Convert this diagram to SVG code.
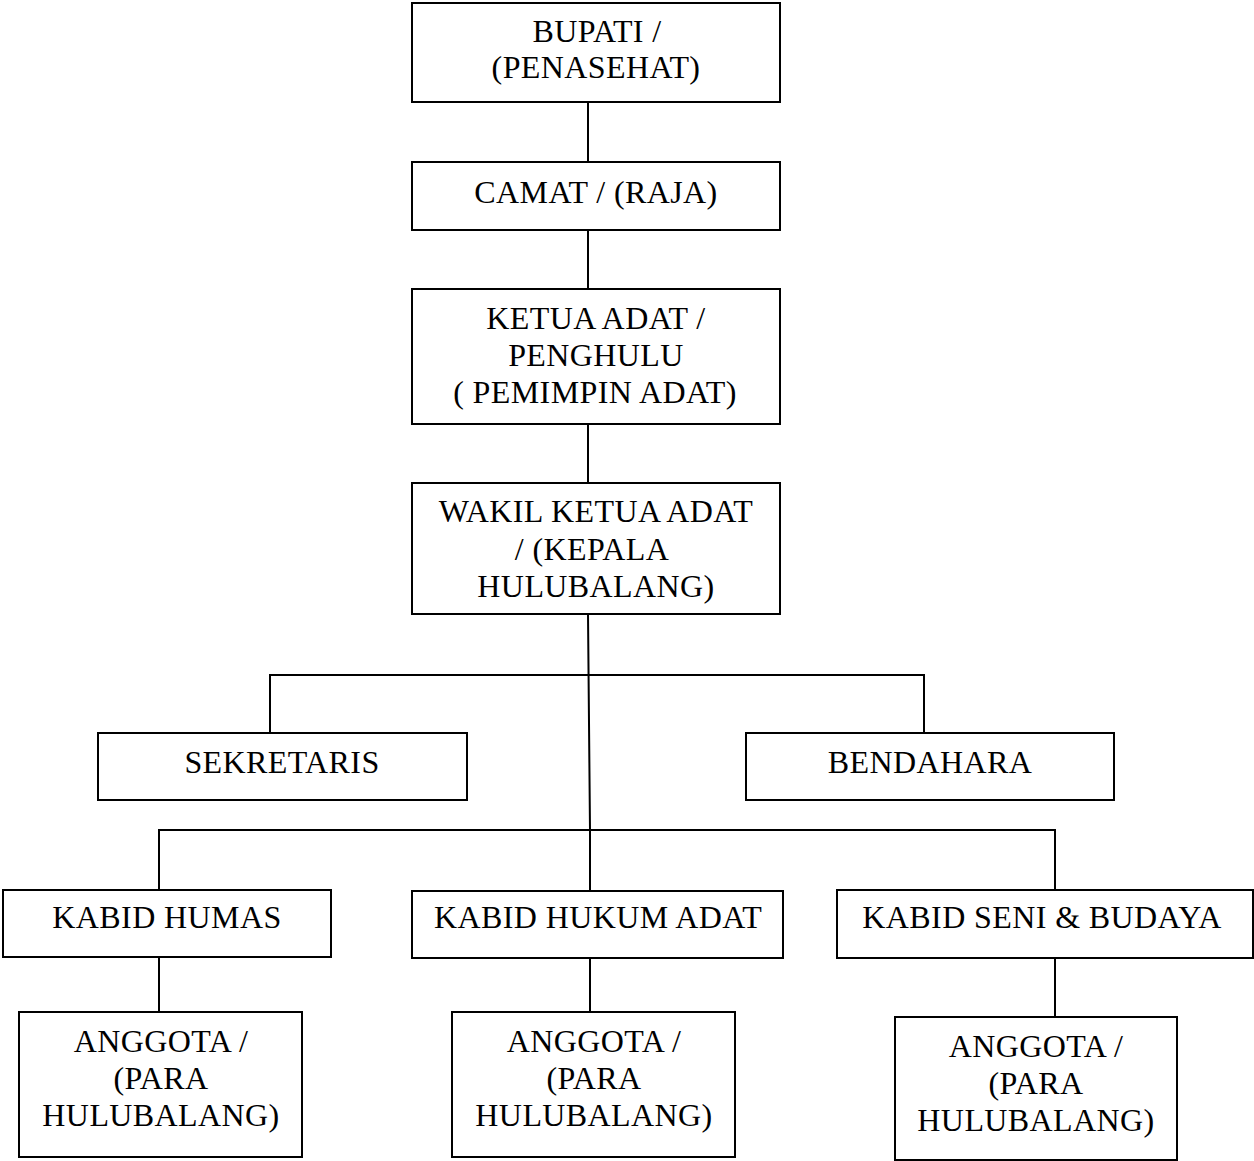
<svg xmlns="http://www.w3.org/2000/svg" width="1254" height="1161" viewBox="0 0 1254 1161">
<style>
.box{fill:#fff;stroke:#000;stroke-width:2}
.lbl{font-family:"Liberation Serif","Times New Roman",serif;font-size:32px;letter-spacing:0.4px;fill:#000;text-anchor:middle}
.con{fill:none;stroke:#000;stroke-width:2}
</style>
<rect width="1254" height="1161" fill="#fff"/>
<g id="connectors">
<line class="con" x1="588" y1="102" x2="588" y2="162"/>
<line class="con" x1="588" y1="230" x2="588" y2="289"/>
<line class="con" x1="588" y1="424" x2="588" y2="483"/>
<polyline class="con" points="588,614 590,830 590,891"/>
<polyline class="con" points="270,733 270,675 924,675 924,733"/>
<polyline class="con" points="159,890 159,830 1055,830 1055,890"/>
<line class="con" x1="159" y1="957" x2="159" y2="1017"/>
<line class="con" x1="590" y1="953" x2="590" y2="1012"/>
<line class="con" x1="1055" y1="958" x2="1055" y2="1017"/>
</g>
<g id="bupati"><rect class="box" x="412" y="3" width="368" height="99"/>
<text class="lbl" x="597" y="42">BUPATI /</text><text class="lbl" x="596" y="78">(PENASEHAT)</text></g>
<g id="camat"><rect class="box" x="412" y="162" width="368" height="68"/>
<text class="lbl" x="596" y="203">CAMAT / (RAJA)</text></g>
<g id="ketua"><rect class="box" x="412" y="289" width="368" height="135"/>
<text class="lbl" x="596" y="329">KETUA ADAT /</text><text class="lbl" x="596" y="366">PENGHULU</text><text class="lbl" x="595" y="403">( PEMIMPIN ADAT)</text></g>
<g id="wakil"><rect class="box" x="412" y="483" width="368" height="131"/>
<text class="lbl" x="596" y="522">WAKIL KETUA ADAT</text><text class="lbl" x="592" y="560">/ (KEPALA</text><text class="lbl" x="596" y="597">HULUBALANG)</text></g>
<g id="sekretaris"><rect class="box" x="98" y="733" width="369" height="67"/>
<text class="lbl" x="282" y="773">SEKRETARIS</text></g>
<g id="bendahara"><rect class="box" x="746" y="733" width="368" height="67"/>
<text class="lbl" x="930" y="773">BENDAHARA</text></g>
<g id="humas"><rect class="box" x="3" y="890" width="328" height="67"/>
<text class="lbl" x="167" y="928">KABID HUMAS</text></g>
<g id="hukum"><rect class="box" x="412" y="891" width="371" height="67"/>
<text class="lbl" x="598" y="928">KABID HUKUM ADAT</text></g>
<g id="seni"><rect class="box" x="837" y="890" width="416" height="68"/>
<text class="lbl" x="1042" y="928">KABID SENI &amp; BUDAYA</text></g>
<g id="anggota1"><rect class="box" x="19" y="1012" width="283" height="145"/>
<text class="lbl" x="161" y="1052">ANGGOTA /</text><text class="lbl" x="161" y="1089">(PARA</text><text class="lbl" x="161" y="1126">HULUBALANG)</text></g>
<g id="anggota2"><rect class="box" x="452" y="1012" width="283" height="145"/>
<text class="lbl" x="594" y="1052">ANGGOTA /</text><text class="lbl" x="594" y="1089">(PARA</text><text class="lbl" x="594" y="1126">HULUBALANG)</text></g>
<g id="anggota3"><rect class="box" x="895" y="1017" width="282" height="143"/>
<text class="lbl" x="1036" y="1057">ANGGOTA /</text><text class="lbl" x="1036" y="1094">(PARA</text><text class="lbl" x="1036" y="1131">HULUBALANG)</text></g>
</svg>
